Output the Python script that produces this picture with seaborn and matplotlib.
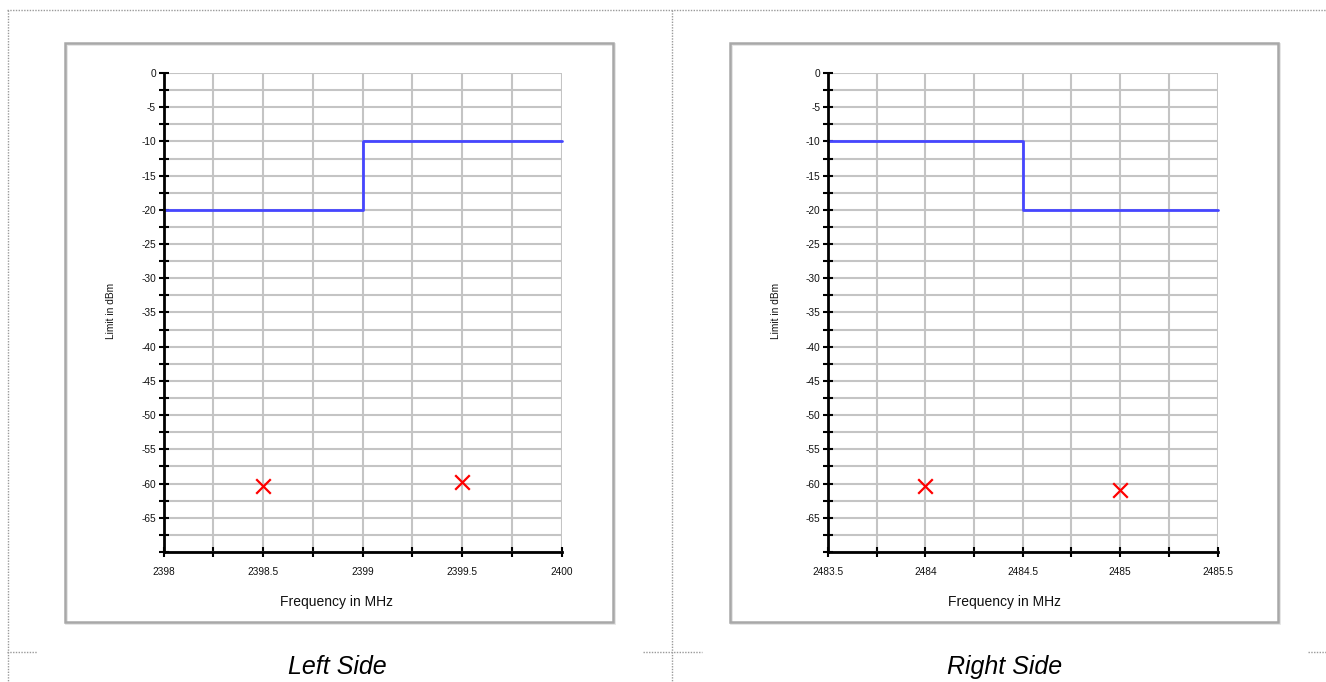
import numpy as np
import pandas as pd
import seaborn as sns
import matplotlib
import matplotlib.pyplot as plt
from matplotlib.patches import Rectangle
matplotlib.use('Agg')

# Limit lines (step functions) and measured points
left_freq = [2398.0, 2399.0, 2400.0]
left_limit = [-20, -10, -10]
left_meas_freq = [2398.5, 2399.5]
left_meas_level = [-60.4, -59.8]

right_freq = [2483.5, 2484.5, 2485.5]
right_limit = [-10, -20, -20]
right_meas_freq = [2484.0, 2485.0]
right_meas_level = [-60.4, -60.9]

captions = ['Left Side', 'Right Side']

sns.set_style('white')
plt.rcParams['font.family'] = ['Liberation Sans', 'DejaVu Sans']

W, H = 1326, 682
fig = plt.figure(figsize=(W / 100, H / 100), dpi=100)

# Background axes in pixel coordinates for the page layout
bg = fig.add_axes([0, 0, 1, 1], zorder=-1)
bg.set_xlim(0, W)
bg.set_ylim(H, 0)
bg.axis('off')

dot = dict(color='#9a9a9a', lw=1, ls=(0, (1, 1)))
bg.plot([7, W], [10, 10], **dot)
bg.plot([8, 8], [10, H], **dot)
bg.plot([672, 672], [10, H], **dot)
for x0, x1 in [(7, 37), (643, 702), (1308, W)]:
    bg.plot([x0, x1], [652, 652], **dot)

# Panel frames
for left in [65, 730]:
    bg.add_patch(Rectangle((left + 1, 44), 548, 579, fill=False, ec='#e4e4e4', lw=2))
    bg.add_patch(Rectangle((left, 43), 548, 579, fill=False, ec='#a8a8a8', lw=1.8))


def draw_panel(ax_rect, freq, limit, meas_f, meas_l, label_x, caption_x, caption):
    ax = fig.add_axes(ax_rect)
    sns.lineplot(x=freq, y=limit, drawstyle='steps-post', color='#4646ff', lw=2,
                 ax=ax, zorder=3, clip_on=False)
    sns.scatterplot(x=meas_f, y=meas_l, marker='x', s=110, color='red',
                    linewidth=1.6, ax=ax, zorder=4)

    ax.set_xlim(freq[0], freq[-1])
    ax.set_ylim(-70, 0)

    xt = np.arange(freq[0], freq[-1] + 0.01, 0.25)
    ax.set_xticks(xt)
    ax.set_xticklabels([f'{t:g}' if abs(t * 2 - round(t * 2)) < 1e-9 else '' for t in xt])
    yt = np.arange(-70, 0.1, 2.5)
    ax.set_yticks(yt)
    ax.set_yticklabels([f'{t:g}' if (t % 5 == 0 and t > -70) else '' for t in yt])

    ax.tick_params(axis='both', direction='inout', length=7, width=1.5,
                   color='black', labelsize=7.3, labelcolor='#111111',
                   bottom=True, left=True)
    ax.tick_params(axis='x', pad=7)
    ax.tick_params(axis='y', pad=2)

    ax.grid(True, color='#c4c4c4', lw=1.5)
    ax.set_axisbelow(True)
    for side in ['top', 'right']:
        ax.spines[side].set_visible(False)
    for side in ['left', 'bottom']:
        ax.spines[side].set_color('black')
        ax.spines[side].set_linewidth(2)
        ax.spines[side].set_zorder(5)
    ax.set_xlabel('')
    ax.set_ylabel('')

    fig.text(label_x / W, 1 - 311 / H, 'Limit in dBm', rotation=90,
             ha='center', va='center', fontsize=7.3, color='#111111')
    fig.text(caption_x / W, 1 - 602 / H, 'Frequency in MHz',
             ha='center', va='center', fontsize=10, color='#111111')
    fig.text(caption_x / W, 1 - 667 / H, caption, style='italic',
             ha='center', va='center', fontsize=18, color='black')
    return ax


draw_panel([163.5 / W, 1 - 552 / H, 398 / W, 479 / H], left_freq, left_limit,
           left_meas_freq, left_meas_level, 111, 337, captions[0])
draw_panel([828 / W, 1 - 552 / H, 389.5 / W, 479 / H], right_freq, right_limit,
           right_meas_freq, right_meas_level, 776, 1005, captions[1])

plt.savefig('out.png', dpi=100)
plt.close()
